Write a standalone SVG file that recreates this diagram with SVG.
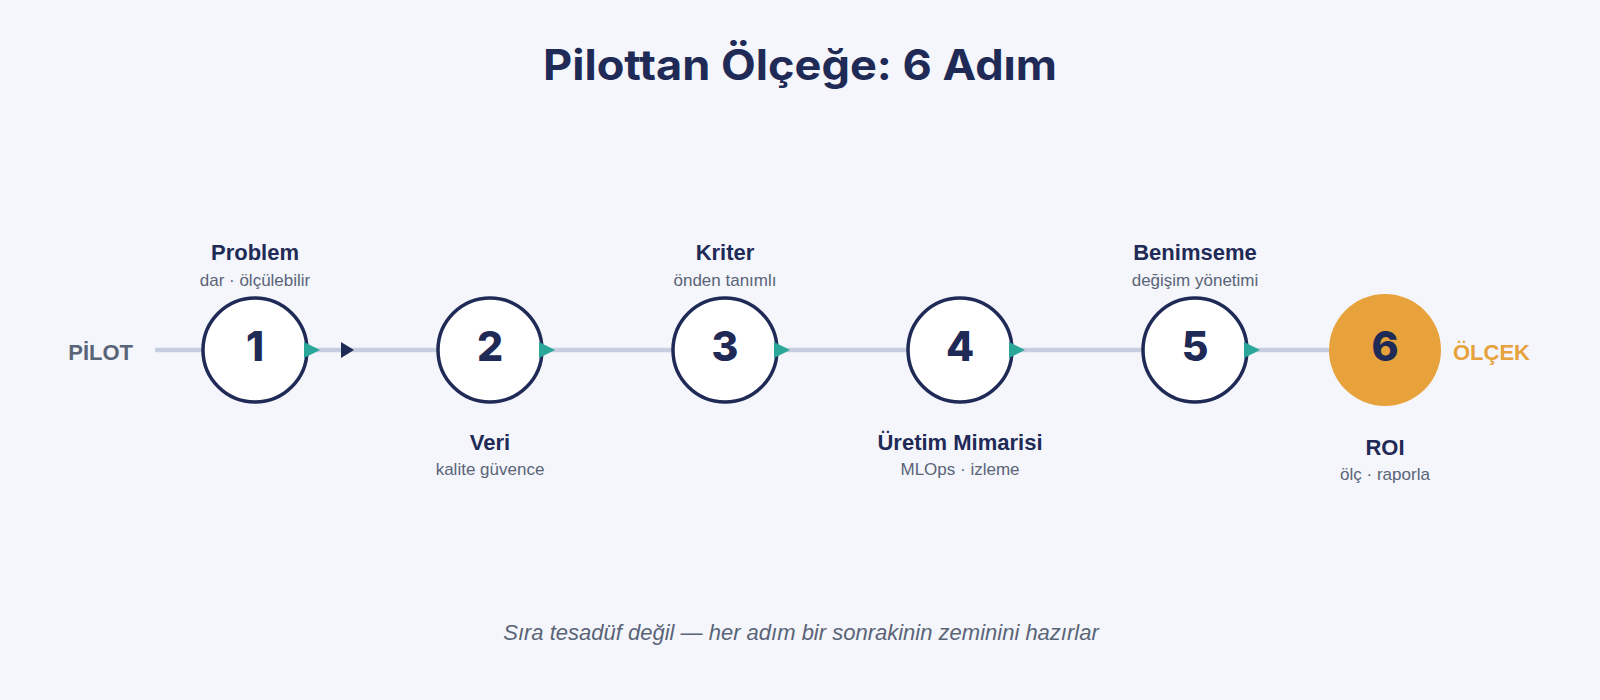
<svg xmlns="http://www.w3.org/2000/svg" width="1600" height="700" viewBox="0 0 1600 700">
  <defs>
    <style>
      .title { font-family: Inter, "Open Sans", "DejaVu Sans", sans-serif; font-weight: 700; font-size: 42px; fill: #1f2a56; }
      .num { font-family: Inter, "Open Sans", "DejaVu Sans", sans-serif; font-weight: 800; font-size: 41px; fill: #1f2a56; text-anchor: middle; }
      .lbl { font-family: "Liberation Sans", Arial, sans-serif; font-weight: 700; font-size: 22px; fill: #1f2a56; text-anchor: middle; }
      .sub { font-family: "Liberation Sans", Arial, sans-serif; font-size: 17px; fill: #5a6478; text-anchor: middle; }
      .end { font-family: "Liberation Sans", Arial, sans-serif; font-weight: 700; font-size: 22px; }
      .foot { font-family: "Liberation Sans", Arial, sans-serif; font-style: italic; font-size: 22px; fill: #5a6478; text-anchor: middle; }
      .ring { fill: #ffffff; stroke: #1f2a56; stroke-width: 3.5; }
      .track { stroke: #c7cee0; stroke-width: 4.5; fill: none; }
      .tip { fill: #2ba79a; }
    </style>
  </defs>
  <rect x="0" y="0" width="1600" height="700" fill="#f4f6fb"/>

  <text class="title" x="800" y="80" text-anchor="middle" textLength="514" lengthAdjust="spacingAndGlyphs">Pilottan Ölçeğe: 6 Adım</text>

  <text class="end" x="133" y="360" text-anchor="end" fill="#5a6478">PİLOT</text>
  <text class="end" x="1453" y="360" fill="#e8a23b">ÖLÇEK</text>

  <g id="connectors">
    <line class="track" x1="155" y1="350" x2="1335" y2="350"/>
    <polygon points="341,342 354,350 341,358" fill="#1f2a56"/>
  </g>

  <g id="step1">
    <circle class="ring" cx="255" cy="350" r="52"/>
    <text class="num" x="255" y="361">1</text>
    <text class="lbl" x="255" y="260">Problem</text>
    <text class="sub" x="255" y="286">dar · ölçülebilir</text>
  </g>
  <g id="step2">
    <circle class="ring" cx="490" cy="350" r="52"/>
    <text class="num" x="490" y="361">2</text>
    <text class="lbl" x="490" y="450">Veri</text>
    <text class="sub" x="490" y="475">kalite güvence</text>
  </g>
  <g id="step3">
    <circle class="ring" cx="725" cy="350" r="52"/>
    <text class="num" x="725" y="361">3</text>
    <text class="lbl" x="725" y="260">Kriter</text>
    <text class="sub" x="725" y="286">önden tanımlı</text>
  </g>
  <g id="step4">
    <circle class="ring" cx="960" cy="350" r="52"/>
    <text class="num" x="960" y="361">4</text>
    <text class="lbl" x="960" y="450">Üretim Mimarisi</text>
    <text class="sub" x="960" y="475">MLOps · izleme</text>
  </g>
  <g id="step5">
    <circle class="ring" cx="1195" cy="350" r="52"/>
    <text class="num" x="1195" y="361">5</text>
    <text class="lbl" x="1195" y="260">Benimseme</text>
    <text class="sub" x="1195" y="286">değişim yönetimi</text>
  </g>
  <g id="step6">
    <circle cx="1385" cy="350" r="56" fill="#e8a23b"/>
    <text class="num" x="1385" y="361">6</text>
    <text class="lbl" x="1385" y="455">ROI</text>
    <text class="sub" x="1385" y="480">ölç · raporla</text>
  </g>

  <g id="arrowheads">
    <polygon class="tip" points="304,342 320,350 304,358"/>
    <polygon class="tip" points="539,342 555,350 539,358"/>
    <polygon class="tip" points="774,342 790,350 774,358"/>
    <polygon class="tip" points="1009,342 1025,350 1009,358"/>
    <polygon class="tip" points="1244,342 1260,350 1244,358"/>
  </g>

  <text class="foot" x="801" y="640">Sıra tesadüf değil — her adım bir sonrakinin zeminini hazırlar</text>
</svg>
